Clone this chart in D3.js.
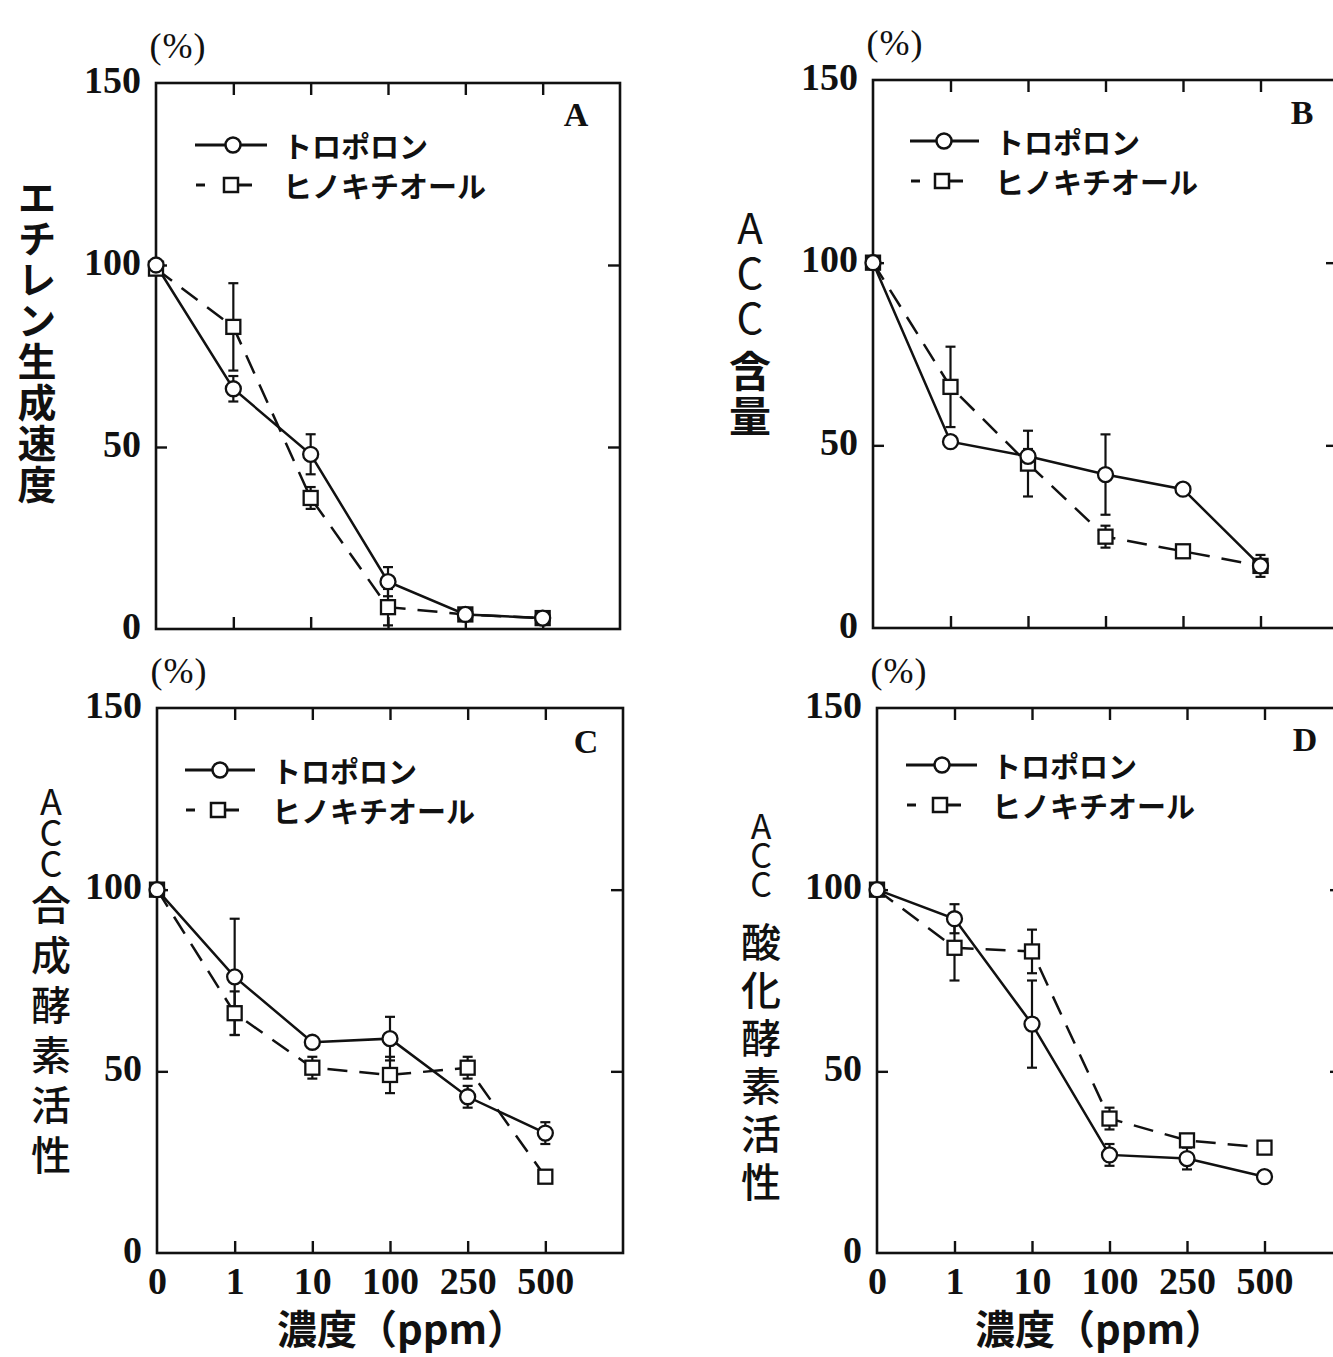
<!DOCTYPE html>
<html><head><meta charset="utf-8">
<script src="https://cdn.jsdelivr.net/npm/d3@7"></script>
<style>html,body{margin:0;padding:0;background:#fff}
.vt{writing-mode:vertical-rl;text-orientation:upright;}</style>
</head><body>
<svg id="chart" width="1333" height="1357" xmlns="http://www.w3.org/2000/svg"></svg>
<script>
// ---------- data ----------
const concentrations = ["0", "1", "10", "100", "250", "500"];
const yTickValues = [0, 50, 100, 150];
const seriesNames = ["トロポロン", "ヒノキチオール"];
const panelLetters = ["A", "B", "C", "D"];
const yTitles = ["エチレン生成速度", "ACC含量", "ACC合成酵素活性", "ACC酸化酵素活性"];
const xTitle = "濃度（ppm）";
const percentLabel = "(%)";

const tropoloneA = [100, 66, 48, 13, 4, 3];
const tropoloneErrA = [0, 3.5, 5.5, 4, 0, 0];
const hinokitiolA = [99, 83, 36, 6, 4, 3];
const hinokitiolErrA = [0, 12, 3, 5, 0, 0];

const tropoloneB = [100, 51, 47, 42, 38, 17];
const tropoloneErrB = [0, 0, 2, 11, 0, 0];
const hinokitiolB = [100, 66, 45, 25, 21, 17];
const hinokitiolErrB = [0, 11, 9, 3, 0, 3];

const tropoloneC = [100, 76, 58, 59, 43, 33];
const tropoloneErrC = [0, 16, 0, 6, 3, 3];
const hinokitiolC = [100, 66, 51, 49, 51, 21];
const hinokitiolErrC = [0, 6, 3, 5, 3, 0];

const tropoloneD = [100, 92, 63, 27, 26, 21];
const tropoloneErrD = [0, 4, 12, 3, 3, 0];
const hinokitiolD = [100, 84, 83, 37, 31, 29];
const hinokitiolErrD = [0, 9, 6, 3, 0, 0];

// ---------- layout ----------
const panels = [
  { letter: panelLetters[0], title: yTitles[0],
    trop: tropoloneA, tropErr: tropoloneErrA, hino: hinokitiolA, hinoErr: hinokitiolErrA,
    frame: { x0: 156, x1: 620, y0: 83, y1: 629 }, showX: false,
    letterPos: [576, 126],
    legend: { lx0: 195, lc: 233, lx1: 267, lt: 283, y1: 145, y2: 185 },
    titleL: { x: 37, top: 178, ls: 0, lsp: 0, kgap: 0, ks: 39, ksp: 2, kw: 700 } },
  { letter: panelLetters[1], title: yTitles[1],
    trop: tropoloneB, tropErr: tropoloneErrB, hino: hinokitiolB, hinoErr: hinokitiolErrB,
    frame: { x0: 873, x1: 1338, y0: 80, y1: 628 }, showX: false,
    letterPos: [1302, 124],
    legend: { lx0: 910, lc: 944, lx1: 979, lt: 995, y1: 141, y2: 181 },
    titleL: { x: 750, top: 207, ls: 42, lsp: 3, kgap: 8, ks: 42, ksp: 3, kw: 700 } },
  { letter: panelLetters[2], title: yTitles[2],
    trop: tropoloneC, tropErr: tropoloneErrC, hino: hinokitiolC, hinoErr: hinokitiolErrC,
    frame: { x0: 157, x1: 623, y0: 708, y1: 1253 }, showX: true,
    letterPos: [586, 753], xTitleX: 402,
    legend: { lx0: 185, lc: 220, lx1: 255, lt: 272, y1: 770, y2: 810 },
    titleL: { x: 51, top: 783, ls: 36, lsp: -5, kgap: 9, ks: 40, ksp: 10, kw: 500 } },
  { letter: panelLetters[3], title: yTitles[3],
    trop: tropoloneD, tropErr: tropoloneErrD, hino: hinokitiolD, hinoErr: hinokitiolErrD,
    frame: { x0: 877, x1: 1342, y0: 708, y1: 1253 }, showX: true,
    letterPos: [1305, 751], xTitleX: 1100,
    legend: { lx0: 906, lc: 942, lx1: 977, lt: 992, y1: 765, y2: 805 },
    titleL: { x: 761, top: 809, ls: 34, lsp: -5, kgap: 26, ks: 40, ksp: 8, kw: 500 } }
];

const CJK = "'Noto Sans CJK JP', 'Noto Sans', sans-serif";
const SERIF = "'Liberation Serif', 'DejaVu Serif', serif";

const svg = d3.select("#chart");
svg.append("rect").attr("width", 1333).attr("height", 1357).attr("fill", "#fff");

panels.forEach(p => {
  const f = p.frame;
  const x = d3.scaleLinear().domain([0, 6]).range([f.x0, f.x1]);
  const y = d3.scaleLinear().domain([0, 150]).range([f.y1, f.y0]);
  const g = svg.append("g");
  const idx = d3.range(concentrations.length);

  // frame
  g.append("rect").attr("x", f.x0).attr("y", f.y0)
    .attr("width", f.x1 - f.x0).attr("height", f.y1 - f.y0)
    .attr("fill", "none").attr("stroke", "#111").attr("stroke-width", 2.6);

  const styleTicks = sel => {
    sel.select(".domain").remove();
    sel.selectAll(".tick line").attr("stroke", "#111").attr("stroke-width", 2.4);
  };
  g.append("g").attr("transform", `translate(0,${f.y1})`)
    .call(d3.axisBottom(x).tickValues([1, 2, 3, 4, 5]).tickSize(-12).tickFormat(""))
    .call(styleTicks);
  g.append("g").attr("transform", `translate(0,${f.y0})`)
    .call(d3.axisTop(x).tickValues([1, 2, 3, 4, 5]).tickSize(-12).tickFormat(""))
    .call(styleTicks);
  g.append("g").attr("transform", `translate(${f.x0},0)`)
    .call(d3.axisLeft(y).tickValues([50, 100]).tickSize(-11).tickFormat(""))
    .call(styleTicks);
  g.append("g").attr("transform", `translate(${f.x1},0)`)
    .call(d3.axisRight(y).tickValues([50, 100]).tickSize(-12).tickFormat(""))
    .call(styleTicks);

  // y tick labels
  const yl = g.append("g").attr("transform", `translate(${f.x0},0)`)
    .call(d3.axisLeft(y).tickValues(yTickValues).tickSize(0).tickPadding(15).tickFormat(d3.format("d")));
  yl.select(".domain").remove();
  yl.selectAll("text").attr("dy", null).attr("y", 9)
    .attr("font-family", SERIF).attr("font-weight", "bold").attr("font-size", 38)
    .attr("fill", "#111");

  // x tick labels
  if (p.showX) {
    const xl = g.append("g").attr("transform", `translate(0,${f.y1})`)
      .call(d3.axisBottom(x).tickValues(idx).tickSize(0).tickFormat(i => concentrations[i]));
    xl.select(".domain").remove();
    xl.selectAll("text").attr("dy", null).attr("y", 41)
      .attr("font-family", SERIF).attr("font-weight", "bold").attr("font-size", 38)
      .attr("fill", "#111");
    g.append("text").attr("x", p.xTitleX).attr("y", f.y1 + 91)
      .attr("text-anchor", "middle").attr("font-family", CJK).attr("font-weight", 700)
      .attr("font-size", 40).attr("fill", "#111").text(xTitle);
  }

  // (%) label
  g.append("text").attr("x", f.x0 + 22).attr("y", f.y0 - 25)
    .attr("text-anchor", "middle").attr("font-family", SERIF).attr("font-size", 36)
    .attr("letter-spacing", 1).attr("fill", "#111").text(percentLabel);

  // panel letter
  g.append("text").attr("x", p.letterPos[0]).attr("y", p.letterPos[1])
    .attr("text-anchor", "middle").attr("font-family", SERIF).attr("font-weight", "bold")
    .attr("font-size", 34).attr("fill", "#111").text(p.letter);

  // vertical y title (one text element, vertical writing mode)
  const t = p.titleL;
  const m = p.title.match(/^([A-Za-z]*)(.*)$/);
  const tt = g.append("text").attr("class", "vt").attr("x", t.x).attr("y", t.top)
    .attr("font-family", CJK).attr("fill", "#111");
  if (m[1]) tt.append("tspan").attr("font-size", t.ls).attr("font-weight", 400)
    .attr("letter-spacing", t.lsp).text(m[1]);
  tt.append("tspan").attr("dy", t.kgap).attr("font-size", t.ks).attr("font-weight", t.kw)
    .attr("letter-spacing", t.ksp).text(m[2]);

  // error bars
  const drawErr = (vals, errs) => {
    idx.forEach(i => {
      const e = errs[i];
      if (!e) return;
      const cx = x(i), ya = y(vals[i] + e), yb = y(vals[i] - e);
      g.append("line").attr("x1", cx).attr("x2", cx).attr("y1", ya).attr("y2", yb)
        .attr("stroke", "#111").attr("stroke-width", 2.2);
      [ya, yb].forEach(yy => g.append("line").attr("x1", cx - 5).attr("x2", cx + 5)
        .attr("y1", yy).attr("y2", yy).attr("stroke", "#111").attr("stroke-width", 2.2));
    });
  };
  drawErr(p.hino, p.hinoErr);
  drawErr(p.trop, p.tropErr);

  const line = d3.line().x((d, i) => x(i)).y(d => y(d));
  g.append("path").datum(p.hino).attr("d", line).attr("fill", "none")
    .attr("stroke", "#111").attr("stroke-width", 2.5).attr("stroke-dasharray", "20,12");
  g.append("path").datum(p.trop).attr("d", line).attr("fill", "none")
    .attr("stroke", "#111").attr("stroke-width", 2.5);

  // markers
  g.selectAll(null).data(p.hino).enter().append("rect")
    .attr("x", (d, i) => x(i) - 7).attr("y", d => y(d) - 7)
    .attr("width", 14).attr("height", 14)
    .attr("fill", "#fff").attr("stroke", "#111").attr("stroke-width", 2.3);
  g.selectAll(null).data(p.trop).enter().append("circle")
    .attr("cx", (d, i) => x(i)).attr("cy", d => y(d)).attr("r", 7.5)
    .attr("fill", "#fff").attr("stroke", "#111").attr("stroke-width", 2.3);

  // legend
  const L = p.legend;
  g.append("line").attr("x1", L.lx0).attr("x2", L.lx1).attr("y1", L.y1).attr("y2", L.y1)
    .attr("stroke", "#111").attr("stroke-width", 2.8);
  g.append("circle").attr("cx", L.lc).attr("cy", L.y1).attr("r", 7.5)
    .attr("fill", "#fff").attr("stroke", "#111").attr("stroke-width", 2.5);
  g.append("line").attr("x1", L.lx0 + 1).attr("x2", L.lx0 + 10).attr("y1", L.y2).attr("y2", L.y2)
    .attr("stroke", "#111").attr("stroke-width", 3);
  g.append("line").attr("x1", L.lc + 6).attr("x2", L.lc + 19).attr("y1", L.y2).attr("y2", L.y2)
    .attr("stroke", "#111").attr("stroke-width", 3);
  g.append("rect").attr("x", L.lc - 9).attr("y", L.y2 - 7).attr("width", 14).attr("height", 14)
    .attr("fill", "#fff").attr("stroke", "#111").attr("stroke-width", 2.5);
  [L.y1, L.y2].forEach((yy, k) => g.append("text").attr("x", L.lt).attr("y", yy)
    .attr("dominant-baseline", "central").attr("font-family", CJK).attr("font-weight", 700)
    .attr("font-size", 29).attr("fill", "#111").text(seriesNames[k]));
});
</script>
</body></html>
